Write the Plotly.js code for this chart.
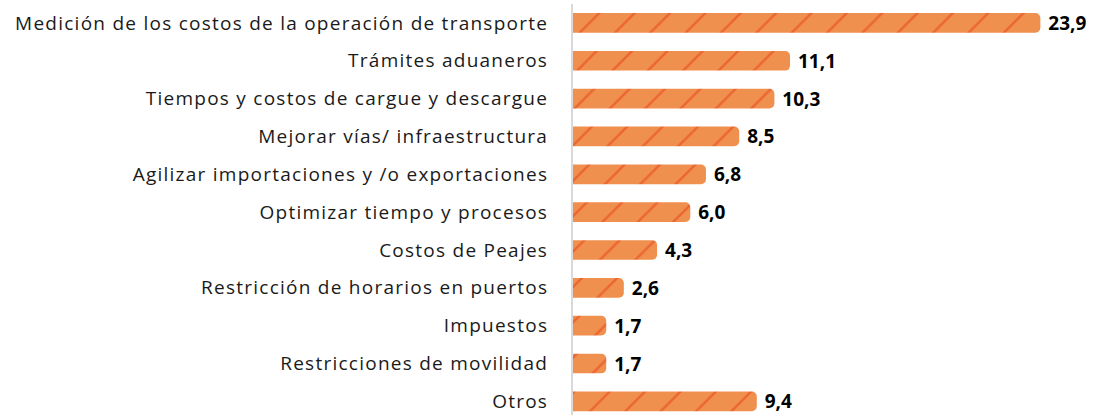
<!DOCTYPE html>
<html>
<head>
<meta charset="utf-8">
<script src="https://cdn.plot.ly/plotly-3.0.1.min.js"></script>
<style>
html,body{margin:0;padding:0;background:#fff;overflow:hidden}
#chart{width:1099px;height:415px}
.ytick text{letter-spacing:1.25px}
</style>
</head>
<body>
<div id="chart"></div>
<script>
const categories = [
  "Medición de los costos de la operación de transporte",
  "Trámites aduaneros",
  "Tiempos y costos de cargue y descargue",
  "Mejorar vías/ infraestructura",
  "Agilizar importaciones y /o exportaciones",
  "Optimizar tiempo y procesos",
  "Costos de Peajes",
  "Restricción de horarios en puertos",
  "Impuestos",
  "Restricciones de movilidad",
  "Otros"
];
const values = [23.9, 11.1, 10.3, 8.5, 6.8, 6.0, 4.3, 2.6, 1.7, 1.7, 9.4];

const trace = {
  type: 'bar',
  orientation: 'h',
  y: categories,
  x: values,
  width: 0.52,
  marker: {
    color: '#F0904F',
    line: {width: 0},
    pattern: {shape: '/', fgcolor: '#E63B17', bgcolor: '#F0904F', size: 25, solidity: 0.1, fillmode: 'overlay'}
  },
  texttemplate: ' %{x:.1f}',
  textposition: 'outside',
  constraintext: 'none',
  textfont: {family: 'Open Sans, sans-serif', size: 19, color: '#000000', weight: 'bold'},
  cliponaxis: false,
  hoverinfo: 'none'
};

const layout = {
  width: 1099, height: 415,
  margin: {l: 573, r: 0, t: 4, b: 0},
  separators: ',.',
  paper_bgcolor: '#ffffff',
  plot_bgcolor: '#ffffff',
  barcornerradius: 5,
  showlegend: false,
  xaxis: {range: [0, 26.9], showgrid: false, zeroline: false, showticklabels: false, showline: false, fixedrange: true},
  yaxis: {
    type: 'category',
    range: [10.36, -0.5],
    autorange: false,
    showgrid: false,
    zeroline: false,
    showline: true, linecolor: '#D9D9D9', linewidth: 2,
    ticks: '',
    ticklabelstandoff: 19,
    tickfont: {family: 'Open Sans, sans-serif', size: 19, color: '#1a1a1a'}
  },
  font: {family: 'Open Sans, sans-serif'}
};

Plotly.newPlot('chart', [trace], layout, {staticPlot: true});
</script>
</body>
</html>
